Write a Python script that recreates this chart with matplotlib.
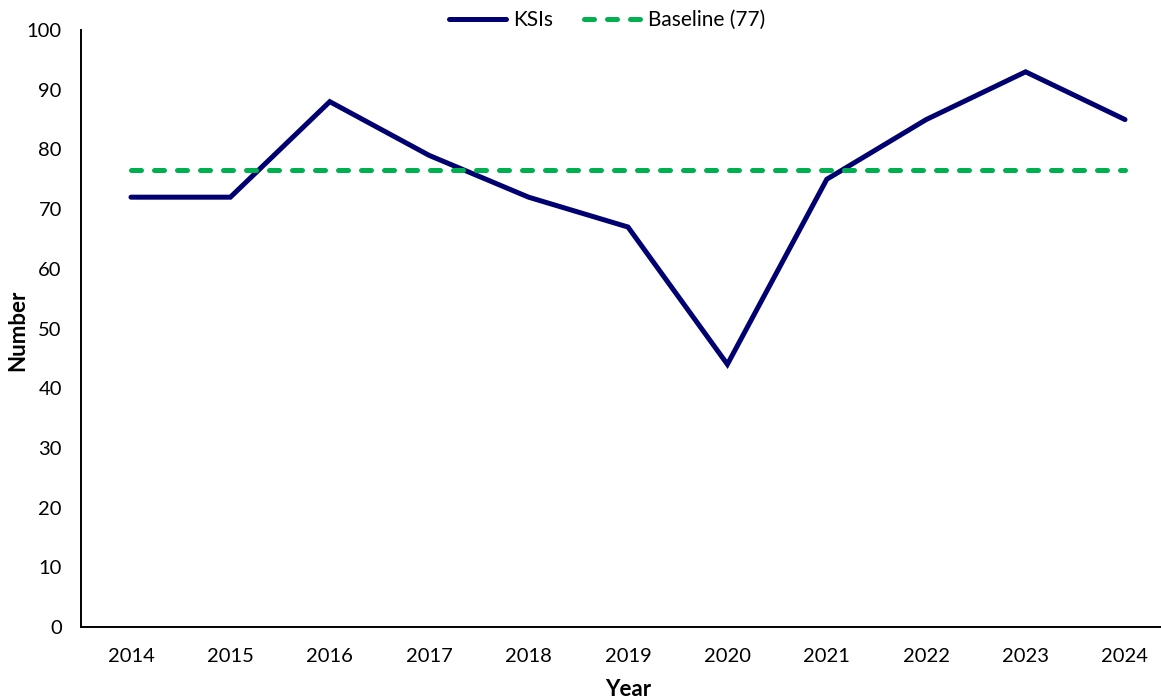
import matplotlib
matplotlib.use("Agg")
import matplotlib.pyplot as plt

years = ["2014", "2015", "2016", "2017", "2018", "2019", "2020", "2021", "2022", "2023", "2024"]
ksis = [72, 72, 88, 79, 72, 67, 44, 75, 85, 93, 85]
baseline = 76.6

plt.rcParams["font.family"] = ["Lato", "DejaVu Sans"]

fig = plt.figure(figsize=(11.61, 7.0), dpi=100)
ax = fig.add_axes([0.0700, 0.1043, 0.9418, 0.8528])

x = list(range(len(years)))
ax.plot(x, ksis, color="#000070", lw=3.6, solid_joinstyle="miter",
        solid_capstyle="round", label="KSIs")
ax.plot(x, [baseline] * len(years), color="#00B050", lw=3.6, ls=(0, (2.0, 2.6)),
        dash_capstyle="round", label=f"Baseline ({baseline:.0f})")

ax.set_xlim(-0.5, len(years) - 0.5)
ax.set_ylim(0, 100)
ax.set_yticks(range(0, 101, 10))
ax.set_xticks(x)
ax.set_xticklabels(years)
ax.tick_params(axis="both", length=0, labelsize=14.5)
ax.tick_params(axis="y", pad=14)
ax.tick_params(axis="x", pad=15)

for side in ("top", "right"):
    ax.spines[side].set_visible(False)
for side in ("left", "bottom"):
    ax.spines[side].set_linewidth(1.4)

# Axis titles placed in figure coordinates
fig.text(18 / 1161, 1 - 330 / 700, "Number", rotation=90, ha="center", va="center",
         fontsize=16, fontweight="bold")
fig.text(628 / 1161, 1 - 689 / 700, "Year", ha="center", va="center",
         fontsize=16, fontweight="bold")

ax.legend(loc="center", bbox_to_anchor=(0.4808, 1.0168), ncol=2, frameon=False,
          fontsize=15, handlelength=2.75, columnspacing=1.5, handletextpad=0.3,
          borderpad=0.2)

fig.savefig("out.png", dpi=100)
